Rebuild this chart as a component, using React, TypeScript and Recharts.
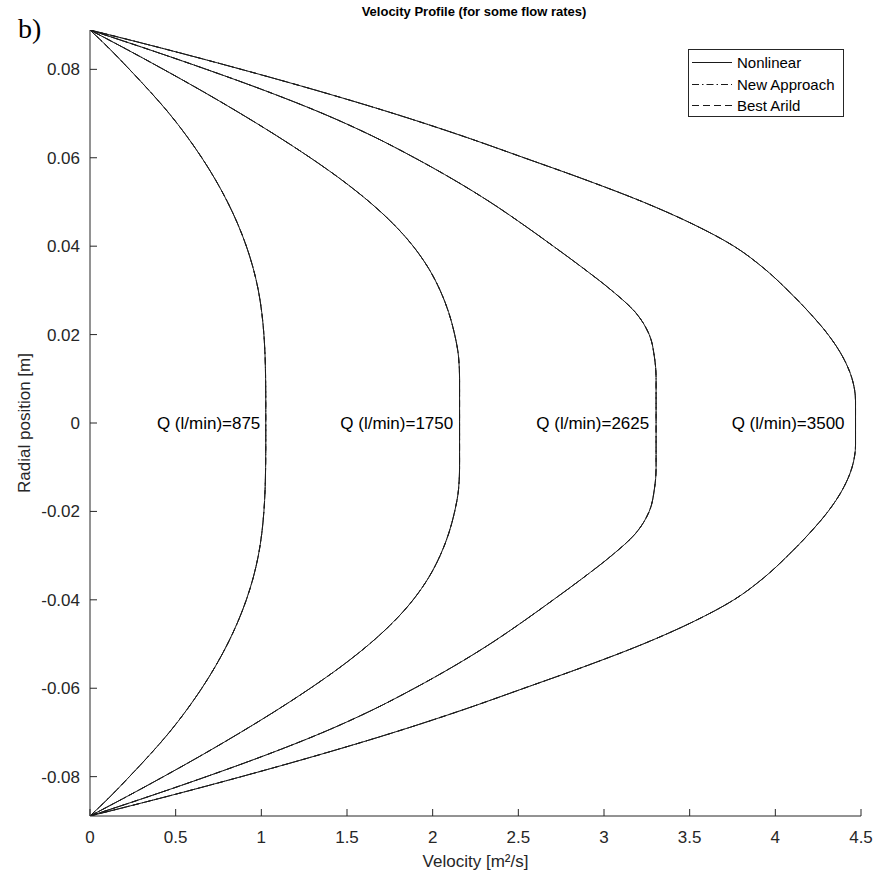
import { LineChart, Line, XAxis, YAxis, ReferenceDot, Label } from 'recharts';

// radial positions (upper half, wall -> centre); lower half is mirrored
const radius = [0.0889, 0.085, 0.08, 0.075, 0.07, 0.065, 0.06, 0.055, 0.05, 0.045, 0.04, 0.035, 0.03, 0.025, 0.02, 0.015, 0.01, 0.005, 0];

// velocity for each flow rate
const vel875 = [0, 0.105, 0.23, 0.35, 0.4625, 0.5625, 0.6525, 0.7325, 0.8025, 0.8625, 0.9125, 0.9525, 0.9825, 1.0025, 1.015, 1.022, 1.025, 1.026, 1.026];
const vel1750 = [0, 0.191, 0.4285, 0.6585, 0.8785, 1.0885, 1.286, 1.4685, 1.631, 1.771, 1.886, 1.976, 2.0435, 2.0935, 2.1285, 2.151, 2.157, 2.157, 2.157];
const vel2625 = [0, 0.304, 0.679, 1.034, 1.359, 1.644, 1.894, 2.124, 2.334, 2.524, 2.704, 2.879, 3.044, 3.184, 3.264, 3.294, 3.304, 3.304, 3.304];
const vel3500 = [0, 0.398, 0.883, 1.343, 1.773, 2.168, 2.533, 2.893, 3.228, 3.518, 3.758, 3.933, 4.073, 4.198, 4.308, 4.393, 4.448, 4.468, 4.468];

const flowRates = [875, 1750, 2625, 3500];
const profiles = [vel875, vel1750, vel2625, vel3500];
// x position where each "Q (l/min)=..." text ends
const labelEnd = [1.0, 2.126, 3.27, 4.41];

const xTicks = [0, 0.5, 1, 1.5, 2, 2.5, 3, 3.5, 4, 4.5];
const yTicks = [-0.08, -0.06, -0.04, -0.02, 0, 0.02, 0.04, 0.06, 0.08];

const models = [
  { name: 'Nonlinear', dash: undefined as string | undefined },
  { name: 'New Approach', dash: '7 3 1.5 3' },
  { name: 'Best Arild', dash: '7 4' },
];

const FONT = '"Liberation Sans", Arial, Helvetica, sans-serif';
const INK = '#262626';
const LINE = '#1a1a1a';

// build full profile from wall (-R) through centre to wall (+R)
function toSeries(v: number[]) {
  const out: { v: number; r: number }[] = [];
  for (let i = 0; i < radius.length; i++) out.push({ v: v[i], r: -radius[i] });
  for (let i = radius.length - 2; i >= 0; i--) out.push({ v: v[i], r: radius[i] });
  return out;
}

const series = profiles.map(toSeries);

export default function App() {
  return (
    <div style={{ position: 'absolute', left: 0, top: 0, width: 888, height: 877, background: '#fff', fontFamily: FONT }}>
      <div style={{ position: 'absolute', left: 18, top: 15, fontFamily: '"Liberation Serif", "Times New Roman", serif', fontSize: 28, lineHeight: '28px', color: '#000' }}>
        b)
      </div>
      <div style={{ position: 'absolute', left: 0, width: 948, top: 4, textAlign: 'center', fontWeight: 'bold', fontSize: 13, color: '#000' }}>
        Velocity Profile (for some flow rates)
      </div>

      <LineChart width={888} height={877} margin={{ top: 30, right: 27, bottom: 0, left: 0 }}>
        <XAxis
          type="number"
          dataKey="v"
          domain={[0, 4.5]}
          ticks={xTicks}
          allowDataOverflow
          height={61}
          tickSize={-7}
          tickMargin={22}
          stroke={INK}
          tick={{ fill: INK, fontSize: 17, fontFamily: FONT }}
        >
          <Label value="Velocity [m²/s]" position="insideBottom" offset={10} fill={INK} fontSize={17} fontFamily={FONT} />
        </XAxis>
        <YAxis
          type="number"
          dataKey="r"
          domain={[-0.0889, 0.0889]}
          ticks={yTicks}
          allowDataOverflow
          width={90}
          tickSize={-7}
          tickMargin={17}
          stroke={INK}
          tick={{ fill: INK, fontSize: 17, fontFamily: FONT }}
          tickFormatter={(t: number) => (t === 0 ? '0' : t.toFixed(2))}
        >
          <Label value="Radial position [m]" angle={-90} position="insideLeft" offset={24} fill={INK} fontSize={17} fontFamily={FONT} style={{ textAnchor: 'middle' }} />
        </YAxis>

        {models.map((m) =>
          series.map((d, i) => (
            <Line
              key={m.name + flowRates[i]}
              data={d}
              dataKey="r"
              type="monotoneY"
              stroke={LINE}
              strokeWidth={1}
              strokeDasharray={m.dash}
              dot={false}
              activeDot={false}
              isAnimationActive={false}
            />
          ))
        )}

        {flowRates.map((q, i) => (
          <ReferenceDot
            key={q}
            x={labelEnd[i]}
            y={0}
            r={1}
            fill="none"
            stroke="none"
            label={{ value: `Q (l/min)=${q}`, position: 'left', offset: 0, fill: '#000', fontSize: 17, fontFamily: FONT }}
          />
        ))}
      </LineChart>

      {/* legend */}
      <div
        style={{
          position: 'absolute',
          left: 688,
          top: 49,
          width: 154,
          height: 66,
          border: `1px solid ${INK}`,
          background: '#fff',
          fontSize: 15,
          color: '#000',
        }}
      >
        {models.map((m, i) => (
          <div key={m.name} style={{ position: 'absolute', left: 0, top: 2 + i * 21.5, height: 21, display: 'flex', alignItems: 'center' }}>
            <svg width={46} height={21} style={{ display: 'block' }}>
              <line x1={3} x2={43} y1={10.5} y2={10.5} stroke={LINE} strokeWidth={1} strokeDasharray={m.dash} />
            </svg>
            <span style={{ marginLeft: 2, whiteSpace: 'nowrap' }}>{m.name}</span>
          </div>
        ))}
      </div>
    </div>
  );
}
